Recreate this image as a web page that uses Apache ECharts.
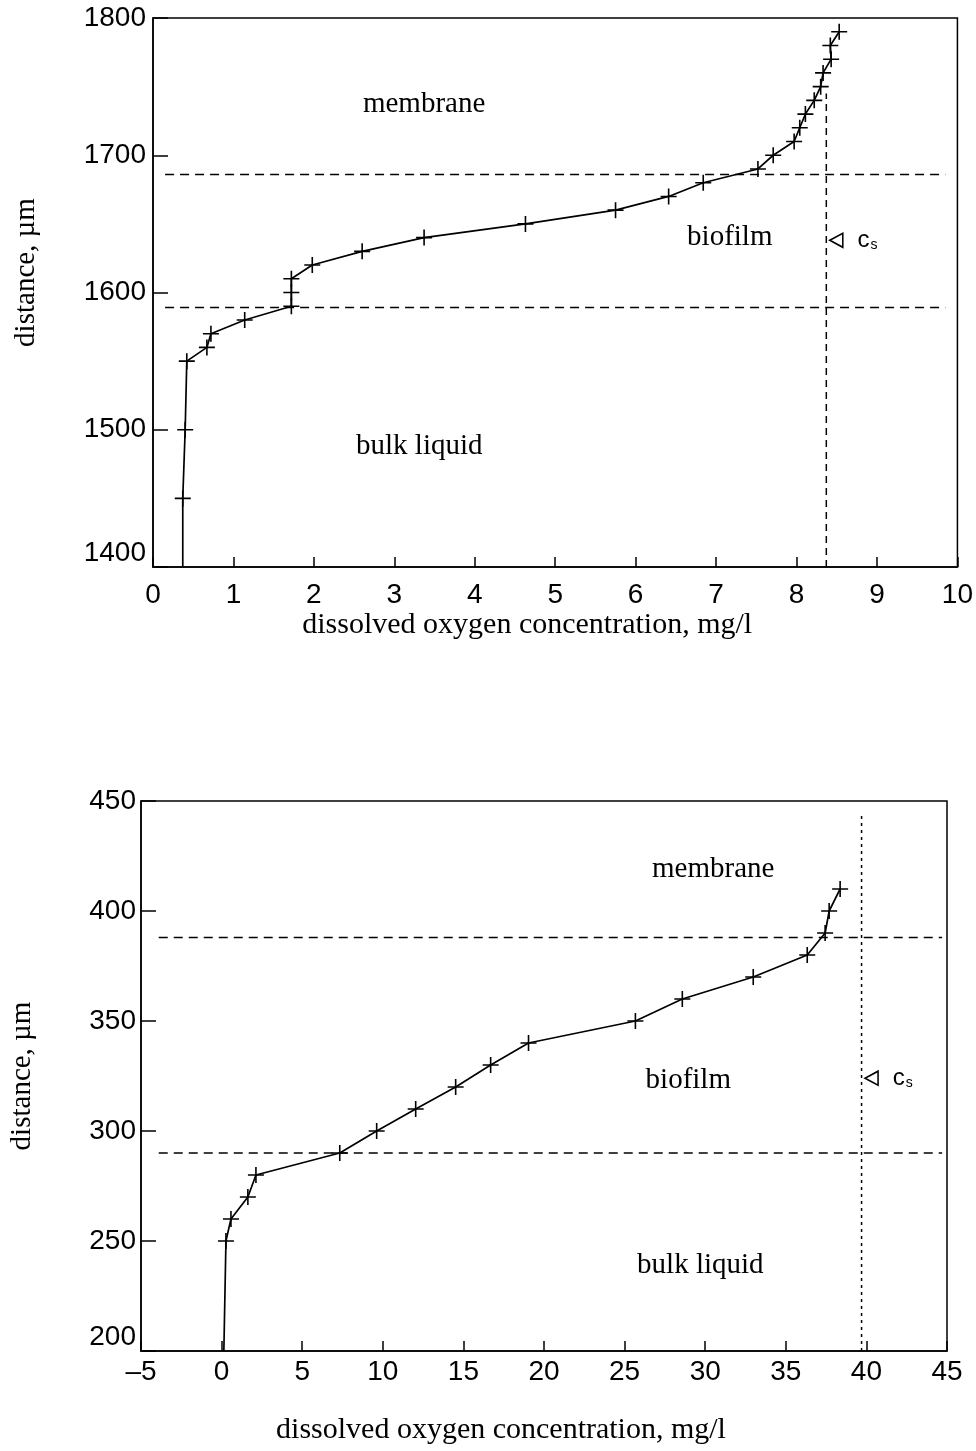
<!DOCTYPE html>
<html>
<head>
<meta charset="utf-8">
<script src="https://cdn.jsdelivr.net/npm/echarts@6/dist/echarts.min.js"></script>
<style>
  html, body { margin: 0; padding: 0; background: #fff; }
  #chart { width: 976px; height: 1451px; }
</style>
</head>
<body>
<div id="chart"></div>
<script>
// upper profile (distance in um, DO in mg/l)
const topDepth = [1450, 1500, 1550, 1560, 1570, 1580, 1590, 1600, 1610, 1620, 1630, 1640, 1650, 1660,
  1670, 1680, 1690, 1700, 1710, 1720, 1730, 1740, 1750, 1760, 1770, 1780, 1790];
const topConc = [0.37, 0.40, 0.42, 0.67, 0.72, 1.14, 1.72, 1.72, 1.72, 1.98, 2.60, 3.37, 4.63, 5.75,
  6.41, 6.84, 7.52, 7.71, 7.97, 8.04, 8.11, 8.22, 8.30, 8.33, 8.43, 8.42, 8.53];
const topBase = [0.37, 1400];
const topBounds = [1686, 1589];        // membrane / biofilm / bulk liquid boundaries
const topBoundsX = [0.15, 9.85];
const topCs = 8.37;
const topCsTop = 1745;
const topCsMark = 1638;

// lower profile
const botDepth = [250, 260, 270, 280, 290, 300, 310, 320, 330, 340, 350, 360, 370, 380, 390, 400, 410];
const botConc = [0.27, 0.58, 1.63, 2.13, 7.33, 9.62, 12.04, 14.52, 16.69, 19.04, 25.67, 28.58, 32.98,
  36.33, 37.44, 37.69, 38.37];
const botBase = [0.14, 200];
const botBounds = [388, 290];
const botBoundsX = [-3.9, 44.7];
const botCs = 39.7;
const botCsTop = 445;
const botCsMark = 324;

const regionNames = ['membrane', 'biofilm', 'bulk liquid'];
const topRegionPos = [[3.37, 1737], [7.17, 1640], [3.31, 1488]];
const botRegionPos = [[30.5, 419], [28.95, 323], [29.7, 239]];

const xTitle = 'dissolved oxygen concentration, mg/l';
const yTitle = 'distance, \u00b5m';

const serif = '"Liberation Serif", "DejaVu Serif", serif';
const sans = '"Liberation Sans", sans-serif';
const plus = 'path://M10,0L10,20M0,10L20,10';
const tri = 'path://M0,5L10,0L10,10Z';

function profile(idx, base, conc, depth) {
  const pts = conc.map((c, i) => [c, depth[i]]);
  return {
    type: 'line', xAxisIndex: idx, yAxisIndex: idx,
    data: [{ value: base, symbol: 'none' }].concat(pts),
    symbol: plus, symbolSize: [16, 16],
    itemStyle: { color: 'none', borderColor: '#000', borderWidth: 1.6 },
    lineStyle: { color: '#000', width: 1.7 },
    z: 5
  };
}

function dashed(idx, data, dash) {
  return {
    type: 'line', xAxisIndex: idx, yAxisIndex: idx, data: data,
    symbol: 'none', lineStyle: { color: '#000', width: 1.5, type: dash }
  };
}

function regions(idx, pos) {
  return {
    type: 'scatter', xAxisIndex: idx, yAxisIndex: idx, symbolSize: 1,
    itemStyle: { color: 'none', opacity: 1 },
    data: pos.map((p, i) => ({ value: p, name: regionNames[i] })),
    label: {
      show: true, position: 'inside', formatter: '{b}',
      fontFamily: serif, fontSize: 29, color: '#000',
      textBorderWidth: 0, opacity: 1
    }
  };
}

function csMark(idx, x, y) {
  return {
    type: 'scatter', xAxisIndex: idx, yAxisIndex: idx,
    data: [[x, y]], symbol: tri, symbolSize: [13, 14], symbolOffset: [10, 0],
    itemStyle: { color: '#fff', borderColor: '#000', borderWidth: 1.6, opacity: 1 },
    label: {
      show: true, position: 'right', distance: 14, formatter: 'c{s|s}',
      fontFamily: sans, fontSize: 24, color: '#000', textBorderWidth: 0, opacity: 1,
      rich: { s: { fontFamily: sans, fontSize: 14, color: '#000', verticalAlign: 'bottom', padding: [10, 0, 0, 1] } }
    }
  };
}

function xAx(idx, min, max, step, gap, margin, shift) {
  return {
    gridIndex: idx, type: 'value', min: min, max: max, interval: step,
    name: xTitle, nameLocation: 'middle', nameGap: gap,
    nameTextStyle: { fontFamily: serif, fontSize: 30, color: '#000', padding: [0, shift, 0, 0] },
    axisLine: { show: true, onZero: false, lineStyle: { color: '#000', width: 1.5 } },
    axisTick: { inside: true, length: 10, lineStyle: { color: '#000', width: 1.5 } },
    axisLabel: {
      margin: margin, fontFamily: sans, fontSize: 28, color: '#000',
      formatter: v => String(v).replace('-', '\u2013')
    },
    splitLine: { show: false }
  };
}

function yAx(idx, min, max, step, gap, margin, shift) {
  return {
    gridIndex: idx, type: 'value', min: min, max: max, interval: step,
    name: yTitle, nameLocation: 'middle', nameGap: gap, nameRotate: 90,
    nameTextStyle: { fontFamily: serif, fontSize: 29, color: '#000', padding: [0, 0, 0, shift] },
    axisLine: { show: true, onZero: false, lineStyle: { color: '#000', width: 1.5 } },
    axisTick: { inside: true, length: 15, lineStyle: { color: '#000', width: 1.5 } },
    axisLabel: {
      margin: margin, fontFamily: sans, fontSize: 28, color: '#000',
      verticalAlignMinLabel: 'bottom',
      formatter: v => String(v)
    },
    splitLine: { show: false }
  };
}

const chart = echarts.init(document.getElementById('chart'));
chart.setOption({
  animation: false,
  backgroundColor: '#fff',
  grid: [
    { left: 153, top: 18, width: 807, height: 549, show: true, borderColor: '#000', borderWidth: 1.5 },
    { left: 140, top: 801, width: 807, height: 550, show: true, borderColor: '#000', borderWidth: 1.5 }
  ],
  xAxis: [xAx(0, 0, 10, 1, 36, 14, 56), xAx(1, -5, 45, 5, 64, 7, 86)],
  yAxis: [yAx(0, 1400, 1800, 100, 112, 7, 40), yAx(1, 200, 450, 50, 104, 5, 0)],
  series: [
    dashed(0, [[topBoundsX[0], topBounds[0]], [topBoundsX[1], topBounds[0]]], [9, 6]),
    dashed(0, [[topBoundsX[0], topBounds[1]], [topBoundsX[1], topBounds[1]]], [9, 6]),
    dashed(0, [[topCs, 1400], [topCs, topCsTop]], [7, 5]),
    profile(0, topBase, topConc, topDepth),
    regions(0, topRegionPos),
    csMark(0, topCs, topCsMark),

    dashed(1, [[botBoundsX[0], botBounds[0]], [botBoundsX[1], botBounds[0]]], [9, 6]),
    dashed(1, [[botBoundsX[0], botBounds[1]], [botBoundsX[1], botBounds[1]]], [9, 6]),
    dashed(1, [[botCs, 200], [botCs, botCsTop]], [3, 4]),
    profile(1, botBase, botConc, botDepth),
    regions(1, botRegionPos),
    csMark(1, botCs, botCsMark)
  ]
});
</script>
</body>
</html>
